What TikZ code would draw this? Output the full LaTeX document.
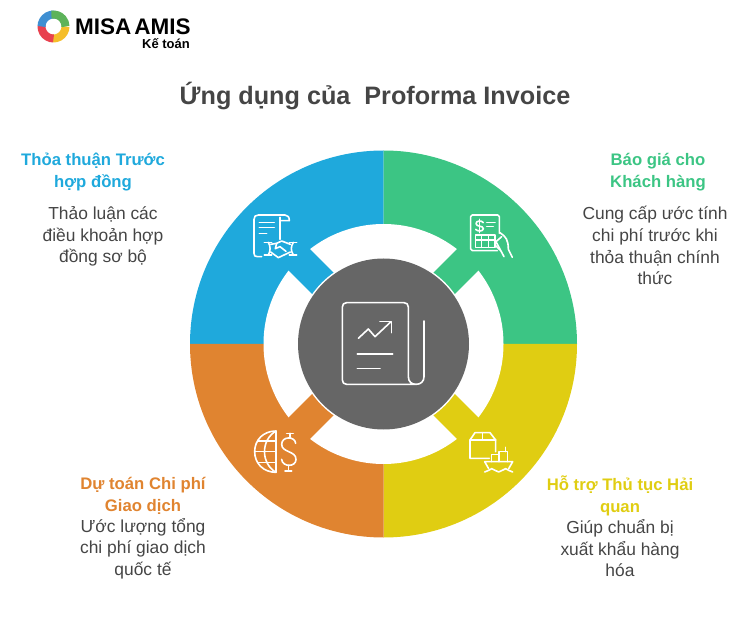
\documentclass[tikz,border=0pt]{standalone}
\usepackage{fontspec}
\setmainfont{Liberation Sans}
\usetikzlibrary{positioning}
\definecolor{planblue}{HTML}{1FA9DC}
\definecolor{plangreen}{HTML}{3CC584}
\definecolor{planyellow}{HTML}{E0CD12}
\definecolor{planorange}{HTML}{E08430}
\definecolor{plangray}{HTML}{666666}
\definecolor{plantext}{HTML}{454545}
\definecolor{logogreen}{HTML}{5DB35A}
\definecolor{logoblue}{HTML}{3F8FD2}
\definecolor{logored}{HTML}{E8414F}
\definecolor{logoyellow}{HTML}{F5BE2A}
\tikzset{
  headline/.style={inner sep=0pt, align=center, font=\fontsize{16.7}{22}\selectfont\bfseries},
  bodytext/.style={inner sep=0pt, align=center, text=plantext, font=\fontsize{17.4}{21.7}\selectfont},
  iconline/.style={draw=white, line width=1.6pt, line cap=round, line join=round},
}
\begin{document}
\begin{tikzpicture}[x=1pt, y=-1pt]
  \useasboundingbox (0,0) rectangle (756,631);

  % logo
  \begin{scope}[shift={(53.5,26.5)}, y=1pt, line width=8pt]
    \draw[color=logoyellow] (0:12) arc[start angle=0, end angle=-95, radius=12pt];
    \draw[color=logored] (-90:12) arc[start angle=-90, end angle=-185, radius=12pt];
    \draw[color=logoblue] (180:12) arc[start angle=180, end angle=85, radius=12pt];
    \draw[color=logogreen] (100:12) arc[start angle=100, end angle=0, radius=12pt];
  \end{scope}
  \node[inner sep=0pt, anchor=west, font=\fontsize{22.5}{23}\selectfont\bfseries] (brand) at (75,27) {MISA\hspace{3pt}AMIS};
  \node[inner sep=0pt, anchor=east, font=\fontsize{13}{13}\selectfont\bfseries] (product) at (190,44) {Kế toán};

  % title
  \node[inner sep=0pt, text=plantext, font=\fontsize{25.2}{30}\selectfont\bfseries] (title) at (375,96) {Ứng dụng của \ Proforma Invoice};

  % wheel
  \begin{scope}[shift={(383.5,344)}, y=1pt]
    \fill[planblue] (0,0) -- (-193.5,0) arc[start angle=180, end angle=90, radius=193.5pt] -- cycle;
    \fill[plangreen] (0,0) -- (0,193.5) arc[start angle=90, end angle=0, radius=193.5pt] -- cycle;
    \fill[planyellow] (0,0) -- (193.5,0) arc[start angle=0, end angle=-90, radius=193.5pt] -- cycle;
    \fill[planorange] (0,0) -- (0,-193.5) arc[start angle=-90, end angle=-180, radius=193.5pt] -- cycle;
    \fill[white] (0,0) circle[radius=120pt];
    \fill[planblue, rotate=135] (80,-15.2) rectangle (125,15.2);
    \fill[plangreen, rotate=45] (80,-15.2) rectangle (125,15.2);
    \fill[planyellow, rotate=-45] (80,-15.2) rectangle (125,15.2);
    \fill[planorange, rotate=-135] (80,-15.2) rectangle (125,15.2);
    \fill[white] (0,0) circle[radius=87pt];
    \fill[plangray] (0,0) circle[radius=85.5pt];
  \end{scope}

  % contract icon
  \begin{scope}[shift={(230,190)}, scale=1/3, iconline]
    \draw (95,200) -- (82,200) .. controls (75,200) and (72,197) .. (72,190) -- (72,88) .. controls (72,79) and (77,75) .. (85,75) -- (165,75) .. controls (174,75) and (178,82) .. (178,92) -- (150,92);
    \draw (150,82) -- (150,148);
    \draw (88,97) -- (133,97) (88,113) -- (133,113) (88,130) -- (110,130);
    \draw (103,157) -- (125,157) (103,195) -- (125,195) (178,157) -- (200,157) (178,195) -- (200,195);
    \draw (115,157) .. controls (122,170) and (122,182) .. (115,195);
    \draw (190,157) .. controls (182,170) and (182,182) .. (190,195);
    \draw (122,163) -- (140,160) -- (155,153) -- (181,163);
    \draw (140,160) -- (136,176) -- (150,170) -- (168,184);
    \draw (122,186) -- (145,203) -- (181,186);
  \end{scope}

  % quote icon
  \begin{scope}[shift={(440,190)}, scale=1/3, iconline]
    \draw (178,130) -- (178,80) .. controls (178,77) and (176,75) .. (173,75) -- (97,75) .. controls (94,75) and (92,77) .. (92,80) -- (92,177) .. controls (92,180) and (94,182) .. (97,182) -- (172,182);
    \draw (130,98) .. controls (125,90) and (108,92) .. (108,101) .. controls (108,111) and (130,106) .. (130,116) .. controls (130,125) and (112,125) .. (107,118);
    \draw (118,88) -- (118,128);
    \draw (140,97) -- (165,97) (140,110) -- (160,110);
    \draw (107,135) rectangle (165,172);
    \draw (107,150) -- (165,150) (125,135) -- (125,172) (145,135) -- (145,172);
    \draw (180,128) .. controls (198,140) and (205,150) .. (205,178) -- (217,202);
    \draw (185,140) -- (168,155) -- (192,200);
    \draw (168,155) -- (165,165) -- (180,180);
  \end{scope}

  % center icon
  \begin{scope}[shift={(300,270)}, scale=1/3, iconline]
    \draw (345,343) -- (140,343) .. controls (132,343) and (127,338) .. (127,330) -- (127,111) .. controls (127,103) and (132,98) .. (140,98) -- (312,98) .. controls (320,98) and (325,103) .. (325,111) -- (325,320) .. controls (325,335) and (335,343) .. (348,343) .. controls (362,343) and (372,335) .. (372,320) -- (372,153);
    \draw (175,205) -- (205,177) -- (225,200) -- (272,156);
    \draw (240,155) -- (274,155) -- (274,188);
    \draw (172,252) -- (278,252) (172,295) -- (240,295);
  \end{scope}

  % globe icon
  \begin{scope}[shift={(240,410)}, scale=1/3, iconline]
    \draw (108,63) .. controls (70,63) and (44,90) .. (44,125) .. controls (44,160) and (70,187) .. (108,187) -- cycle;
    \draw (108,63) .. controls (62,90) and (62,160) .. (108,187);
    \draw (55,93) -- (108,93) (44,125) -- (108,125) (55,157) -- (108,157);
    \draw (167,100) .. controls (165,78) and (125,78) .. (125,103) .. controls (125,128) and (168,122) .. (168,148) .. controls (168,172) and (127,172) .. (125,148);
    \draw (150,70) -- (150,84) (145,166) -- (145,183);
    \draw (140,70) -- (160,70) (135,183) -- (155,183);
  \end{scope}

  % cargo icon
  \begin{scope}[shift={(450,410)}, scale=1/3, iconline]
    \draw (118,145) -- (60,145) -- (60,90) -- (75,68) -- (120,68) -- (137,90) -- (137,125);
    \draw (60,90) -- (137,90) (98,68) -- (98,90);
    \draw (104,155) -- (188,155) -- (176,176) (104,155) -- (116,176);
    \draw (125,155) -- (125,133) -- (147,133) -- (147,155);
    \draw (147,125) -- (173,125) -- (173,155) (147,125) -- (147,133) (167,112) -- (167,125);
    \draw (104,186) .. controls (115,186) and (118,176) .. (125,176) .. controls (135,176) and (135,186) .. (146,186) .. controls (157,186) and (157,176) .. (167,176) .. controls (174,176) and (177,186) .. (188,186);
  \end{scope}

  % labels
  \node[headline, text=planblue] (dealhead) at (93,172) {Thỏa thuận Trước\\hợp đồng};
  \node[bodytext, below=15pt of dealhead, xshift=10pt] (dealtext) {Thảo luận các\\điều khoản hợp\\đồng sơ bộ};

  \node[headline, text=plangreen] (quotehead) at (658,172) {Báo giá cho\\Khách hàng};
  \node[bodytext, below=15pt of quotehead, xshift=-3pt] (quotetext) {Cung cấp ước tính\\chi phí trước khi\\thỏa thuận chính\\thức};

  \node[headline, text=planorange] (costhead) at (143,496) {Dự toán Chi phí\\Giao dịch};
  \node[bodytext, below=3pt of costhead] (costtext) {Ước lượng tổng\\chi phí giao dịch\\quốc tế};

  \node[headline, text=planyellow] (customhead) at (620,496) {Hỗ trợ Thủ tục Hải\\quan};
  \node[bodytext, below=3pt of customhead] (customtext) {Giúp chuẩn bị\\xuất khẩu hàng\\hóa};
\end{tikzpicture}
\end{document}
